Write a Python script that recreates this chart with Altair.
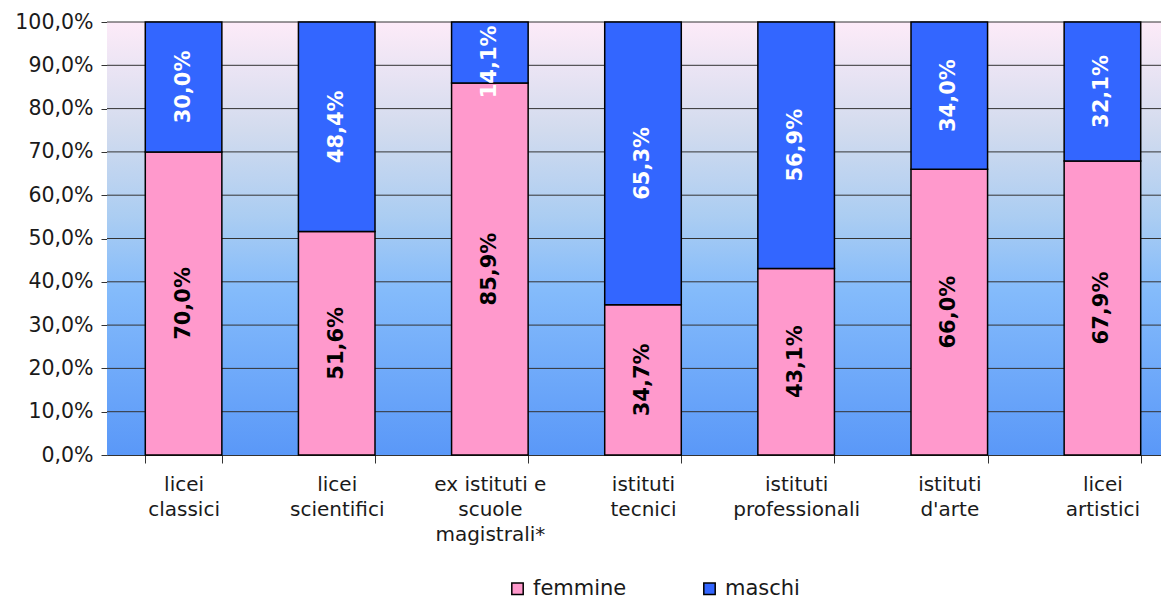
import altair as alt
import pandas as pd

categorie = [
    "licei\nclassici",
    "licei\nscientifici",
    "ex istituti e\nscuole\nmagistrali*",
    "istituti\ntecnici",
    "istituti\nprofessionali",
    "istituti\nd'arte",
    "licei\nartistici",
]
femmine = [70.0, 51.6, 85.9, 34.7, 43.1, 66.0, 67.9]
maschi = [30.0, 48.4, 14.1, 65.3, 56.9, 34.0, 32.1]
generi = ["femmine", "maschi"]
colori = ["#FF99CC", "#3366FF"]
griglia = [10, 20, 30, 40, 50, 60, 70, 80, 90, 100]

rows = []
for c, f, m in zip(categorie, femmine, maschi):
    rows.append({"categoria": c, "genere": "femmine", "valore": f})
    rows.append({"categoria": c, "genere": "maschi", "valore": m})
df = pd.DataFrame(rows)

W, H = 1072, 433
FONT = "DejaVu Sans"

xenc = alt.X(
    "categoria:N",
    sort=categorie,
    title=None,
    scale=alt.Scale(paddingInner=0.5, paddingOuter=0.25),
    axis=alt.Axis(
        labelAngle=0,
        labelExpr="split(datum.label, '\\n')",
        labelFont=FONT,
        labelFontSize=20,
        labelColor="#1a1a1a",
        labelLineHeight=25,
        labelPadding=11,
        tickBand="extent",
        tickSize=8,
        tickColor="#333333",
        domainColor="#333333",
        grid=False,
    ),
)

yscale = alt.Scale(domain=[0, 100], nice=False)

sfondo = alt.Chart(pd.DataFrame({"a": [0]})).mark_rect(
    color=alt.LinearGradient(
        gradient="linear",
        x1=0, x2=0, y1=0, y2=1,
        stops=[
            alt.GradientStop(color="#FDEBF8", offset=0),
            alt.GradientStop(color="#D2DBEE", offset=0.25),
            alt.GradientStop(color="#ABCDF2", offset=0.45),
            alt.GradientStop(color="#84BBFB", offset=0.62),
            alt.GradientStop(color="#5A98F8", offset=1),
        ],
    )
).encode(x=alt.value(0), x2=alt.value(W), y=alt.value(0), y2=alt.value(H))

righe = alt.Chart(pd.DataFrame({"v": griglia})).mark_rule(
    color="#333333", strokeWidth=1
).encode(y=alt.Y("v:Q", scale=yscale))

barre = alt.Chart(df).mark_bar(stroke="black", strokeWidth=1.5).encode(
    x=xenc,
    y=alt.Y(
        "valore:Q",
        stack="zero",
        scale=yscale,
        title=None,
        axis=alt.Axis(
            values=[0, 10, 20, 30, 40, 50, 60, 70, 80, 90, 100],
            labelExpr="replace(format(datum.value, '.1f'), '.', ',') + '%'",
            labelFont=FONT,
            labelFontSize=20.5,
            labelColor="#1a1a1a",
            labelPadding=8,
            tickSize=6,
            tickColor="#333333",
            domainColor="#333333",
            grid=False,
        ),
    ),
    color=alt.Color(
        "genere:N",
        scale=alt.Scale(domain=generi, range=colori),
        legend=alt.Legend(
            title=None,
            orient="none",
            direction="horizontal",
            legendX=400,
            legendY=556,
            symbolType="square",
            symbolSize=130,
            symbolStrokeColor="black",
            symbolStrokeWidth=1.5,
            labelFont=FONT,
            labelFontSize=21,
            labelColor="#1a1a1a",
            labelOffset=5,
            columnPadding=72,
        ),
    ),
    order=alt.Order("genere:N", sort="ascending"),
)

testi = alt.Chart(df).transform_stack(
    stack="valore",
    groupby=["categoria"],
    as_=["y0", "y1"],
    sort=[alt.SortField("genere", order="ascending")],
).transform_calculate(
    mid="min((datum.y0 + datum.y1) / 2, 90.8)",
    etichetta="replace(format(datum.valore, '.1f'), '.', ',') + '%'",
).mark_text(
    angle=270, font=FONT, fontSize=21, fontWeight="bold", baseline="middle", align="center"
).encode(
    x=alt.X("categoria:N", sort=categorie),
    y=alt.Y("mid:Q", scale=yscale),
    text="etichetta:N",
    color=alt.condition("datum.genere == 'maschi'", alt.value("white"), alt.value("black")),
)

chart = alt.layer(sfondo, righe, barre, testi).properties(
    width=W,
    height=H,
    autosize=alt.AutoSizeParams(type="none"),
    padding={"left": 99, "top": 14, "right": -18, "bottom": 146},
).configure_view(stroke=None).configure_legend(padding=0)

chart.save("out.html", embed_options={"renderer": "svg", "actions": False})
